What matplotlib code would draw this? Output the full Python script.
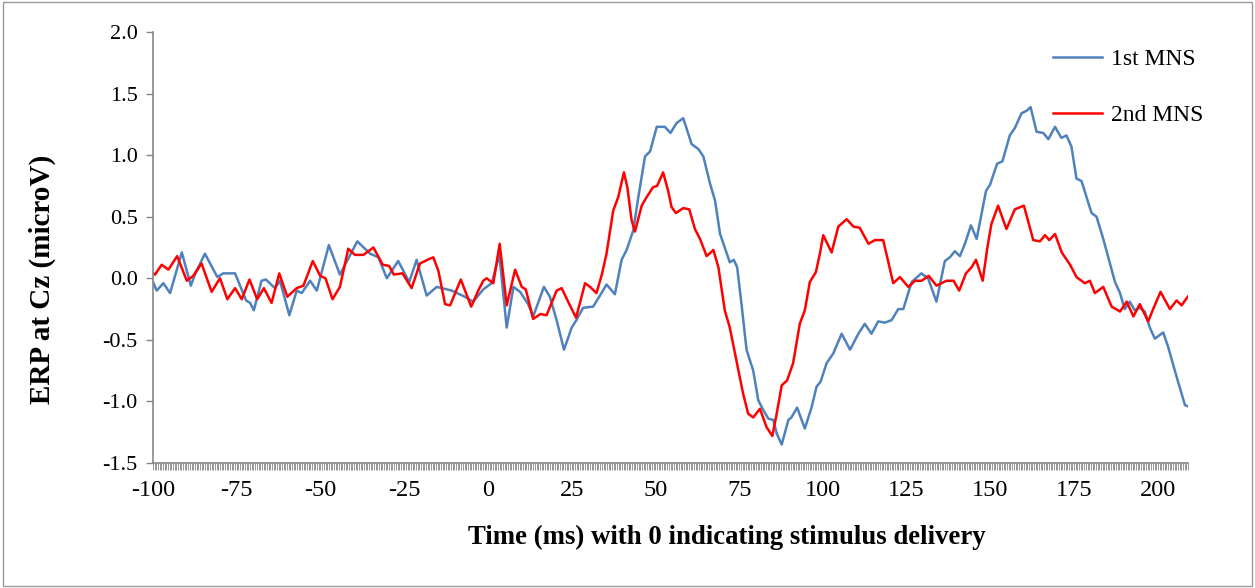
import numpy as np
import matplotlib
matplotlib.use("Agg")
import matplotlib.pyplot as plt
from matplotlib.ticker import MultipleLocator, FormatStrFormatter
from matplotlib.patches import Rectangle

# time (ms) and ERP amplitude (microV)
t_first = [-100.0, -98.9, -96.9, -94.9, -91.4, -88.7, -87.5, -84.5, -80.8, -79.0,
           -75.5, -72.2, -71.0, -69.9, -67.6, -66.3, -63.6, -62.1, -59.3, -57.1,
           -55.6, -53.1, -51.1, -47.5, -44.2, -39.0, -35.2, -32.7, -30.2, -26.8,
           -23.5, -21.3, -18.3, -15.3, -10.8, -6.9, -4.4, -1.4, 1.1, 3.4,
           5.6, 7.6, 9.6, 12.0, 13.5, 16.7, 18.5, 20.5, 22.7, 25.0,
           26.4, 28.4, 31.4, 33.9, 35.4, 37.9, 39.9, 41.4, 43.4, 44.9,
           46.9, 48.4, 50.4, 52.8, 54.5, 56.3, 58.3, 60.8, 62.8, 64.3,
           66.3, 67.8, 69.3, 70.7, 72.2, 73.4, 74.4, 75.7, 77.2, 79.2,
           80.7, 82.2, 83.7, 85.2, 86.2, 87.7, 89.7, 90.6, 92.3, 94.6,
           96.6, 98.1, 99.3, 101.1, 103.1, 105.6, 108.1, 110.6, 112.5, 114.5,
           116.5, 118.5, 120.5, 122.5, 124.0, 126.5, 129.4, 131.4, 133.9, 136.4,
           137.9, 139.4, 140.9, 142.4, 144.2, 145.9, 148.7, 149.9, 152.0, 153.6,
           155.8, 157.3, 159.3, 160.8, 162.0, 163.8, 165.8, 167.3, 169.3, 171.2,
           172.7, 174.2, 175.7, 177.2, 178.7, 180.2, 181.7, 183.7, 185.7, 187.2,
           188.7, 190.1, 191.6, 193.1, 194.6, 196.1, 197.6, 199.1, 201.6, 203.1,
           205.6, 208.1, 209.0]
erp_first = [-0.03, -0.10, -0.04, -0.12, 0.21, -0.06, 0.03, 0.20, 0.01, 0.04,
             0.04, -0.18, -0.20, -0.26, -0.02, -0.01, -0.08, -0.02, -0.30, -0.10,
             -0.12, -0.02, -0.10, 0.27, 0.03, 0.30, 0.20, 0.17, 0.00, 0.14,
             -0.03, 0.15, -0.14, -0.07, -0.10, -0.15, -0.19, -0.09, -0.04, 0.19,
             -0.40, -0.07, -0.11, -0.21, -0.31, -0.07, -0.15, -0.34, -0.58, -0.40,
             -0.34, -0.24, -0.23, -0.12, -0.05, -0.13, 0.15, 0.23, 0.39, 0.66,
             0.99, 1.03, 1.23, 1.23, 1.18, 1.26, 1.30, 1.09, 1.05, 0.99,
             0.77, 0.63, 0.36, 0.25, 0.13, 0.15, 0.09, -0.21, -0.58, -0.75,
             -0.99, -1.07, -1.14, -1.15, -1.26, -1.35, -1.15, -1.13, -1.05, -1.22,
             -1.05, -0.88, -0.84, -0.69, -0.61, -0.45, -0.58, -0.45, -0.37, -0.45,
             -0.35, -0.36, -0.34, -0.25, -0.25, -0.03, 0.04, 0.00, -0.19, 0.14,
             0.17, 0.22, 0.18, 0.28, 0.43, 0.32, 0.71, 0.76, 0.93, 0.95,
             1.16, 1.22, 1.34, 1.36, 1.39, 1.19, 1.18, 1.13, 1.23, 1.14,
             1.16, 1.07, 0.81, 0.79, 0.66, 0.53, 0.50, 0.32, 0.12, -0.03,
             -0.12, -0.25, -0.19, -0.26, -0.24, -0.27, -0.40, -0.49, -0.44, -0.56,
             -0.80, -1.03, -1.04]

t_second = [-100.0, -99.4, -97.4, -95.4, -92.8, -89.9, -88.0, -85.5, -82.5, -80.0,
            -77.8, -75.5, -73.5, -71.2, -68.9, -66.9, -64.6, -62.3, -59.9, -57.1,
            -55.1, -52.3, -50.1, -48.5, -46.4, -44.2, -41.7, -39.7, -37.2, -34.2,
            -31.4, -29.5, -28.1, -25.5, -22.8, -20.3, -17.3, -16.3, -14.8, -12.8,
            -11.3, -8.1, -5.0, -2.9, -1.4, -0.4, 1.6, 3.5, 5.6, 8.1,
            10.1, 11.3, 13.5, 15.7, 17.5, 20.5, 22.0, 24.3, 26.3, 29.0,
            30.5, 32.4, 34.0, 35.4, 37.4, 38.9, 40.6, 41.6, 42.9, 43.9,
            45.9, 47.4, 49.3, 50.5, 52.3, 53.8, 54.8, 56.1, 58.3, 60.1,
            61.8, 63.3, 65.3, 67.3, 68.8, 70.7, 72.2, 74.2, 76.2, 77.7,
            79.2, 81.2, 83.2, 84.9, 86.2, 87.7, 89.3, 91.1, 93.1, 94.6,
            96.1, 97.9, 99.1, 100.1, 102.6, 104.6, 107.1, 109.1, 111.0, 113.6,
            115.5, 118.0, 121.0, 123.0, 125.5, 127.5, 129.5, 131.6, 133.9, 136.9,
            139.0, 140.7, 142.7, 144.4, 145.7, 147.7, 149.1, 150.3, 152.3, 154.8,
            157.3, 160.0, 162.8, 164.8, 166.3, 167.6, 169.3, 171.3, 173.8, 175.7,
            178.2, 179.7, 181.2, 183.7, 186.2, 188.7, 190.7, 192.7, 194.6, 197.1,
            198.6, 200.8, 203.6, 205.6, 207.1, 208.9]
erp_second = [0.04, 0.03, 0.11, 0.07, 0.18, -0.02, 0.02, 0.12, -0.11, 0.00,
              -0.17, -0.08, -0.17, -0.01, -0.17, -0.08, -0.20, 0.04, -0.15, -0.08,
              -0.06, 0.14, 0.02, 0.00, -0.17, -0.07, 0.24, 0.19, 0.19, 0.25,
              0.11, 0.10, 0.03, 0.04, -0.08, 0.12, 0.16, 0.17, 0.06, -0.21,
              -0.22, -0.01, -0.23, -0.10, -0.02, 0.00, -0.04, 0.28, -0.22, 0.07,
              -0.07, -0.09, -0.33, -0.29, -0.30, -0.10, -0.08, -0.21, -0.32, -0.04,
              -0.07, -0.12, 0.03, 0.20, 0.55, 0.66, 0.86, 0.74, 0.47, 0.38,
              0.59, 0.66, 0.74, 0.75, 0.86, 0.71, 0.58, 0.53, 0.57, 0.56,
              0.40, 0.32, 0.18, 0.23, 0.09, -0.26, -0.40, -0.67, -0.94, -1.10,
              -1.13, -1.06, -1.21, -1.28, -1.10, -0.87, -0.83, -0.69, -0.37, -0.26,
              -0.03, 0.05, 0.20, 0.35, 0.21, 0.42, 0.48, 0.42, 0.41, 0.28,
              0.31, 0.31, -0.04, 0.01, -0.07, -0.02, -0.02, 0.02, -0.06, -0.02,
              -0.02, -0.10, 0.04, 0.09, 0.15, -0.02, 0.25, 0.44, 0.59, 0.40,
              0.56, 0.59, 0.31, 0.30, 0.35, 0.31, 0.36, 0.21, 0.11, 0.01,
              -0.04, -0.02, -0.12, -0.07, -0.23, -0.27, -0.19, -0.31, -0.21, -0.35,
              -0.25, -0.11, -0.25, -0.18, -0.22, -0.15]

plt.rcParams['font.family'] = ['Liberation Serif', 'DejaVu Serif']
plt.rcParams['axes.unicode_minus'] = False

grey = '#868686'

fig = plt.figure(figsize=(12.55, 5.88), dpi=100)
ax = fig.add_axes([153 / 1255, 1 - 463 / 588, (1188 - 153) / 1255, (463 - 32) / 588])

ax.plot(t_first, erp_first, color='#4F81BD', lw=1.8, solid_joinstyle='round', label='1st MNS')
ax.plot(t_second, erp_second, color='#FF0000', lw=1.8, solid_joinstyle='round', label='2nd MNS')

ax.set_xlim(-100, 209)
ax.set_ylim(-1.5, 2.0)

ax.yaxis.set_major_locator(MultipleLocator(0.5))
ax.yaxis.set_major_formatter(FormatStrFormatter('%.1f'))
ax.xaxis.set_major_locator(MultipleLocator(25))
ax.xaxis.set_minor_locator(MultipleLocator(0.5))

for s in ['top', 'right']:
    ax.spines[s].set_visible(False)
for s in ['left', 'bottom']:
    ax.spines[s].set_color(grey)
    ax.spines[s].set_linewidth(1.2)

ax.tick_params(axis='y', direction='out', length=5, width=1.0, color=grey,
               labelsize=16, pad=6)
ax.tick_params(axis='x', which='both', direction='out', length=5, width=0.6,
               color=grey, labelsize=17.5, pad=7)

fig.text(42 / 1255, 1 - 279 / 588, 'ERP at Cz (microV)', rotation=90,
         ha='center', va='center', fontsize=21, fontweight='bold')
fig.text(727 / 1255, 1 - 537 / 588, 'Time (ms) with 0 indicating stimulus delivery',
         ha='center', va='center', fontsize=19.3, fontweight='bold')

ax.legend(loc='upper left', bbox_to_anchor=(1041 / 1255, 1 - 37 / 588),
          bbox_transform=fig.transFigure, frameon=False, fontsize=17,
          handlelength=2.1, handletextpad=0.35, labelspacing=1.45, borderpad=0)

# chart border
fig.patches.append(Rectangle((0.002, 0.003), 0.996, 0.994, transform=fig.transFigure,
                             fill=False, edgecolor='#9a9a9a', lw=1.0))

fig.savefig('out.png', dpi=100)
